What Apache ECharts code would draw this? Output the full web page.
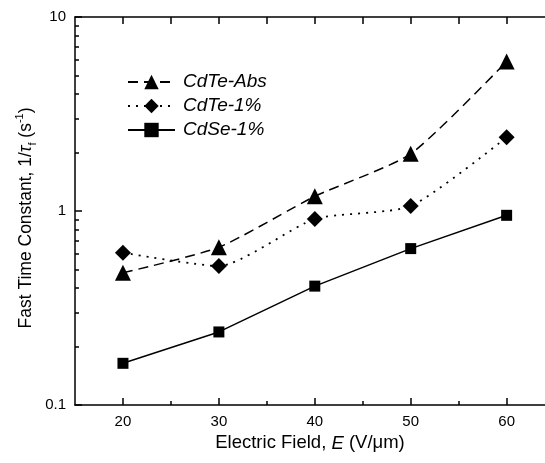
<!DOCTYPE html>
<html>
<head>
<meta charset="utf-8">
<script src="https://cdn.jsdelivr.net/npm/echarts@6/dist/echarts.min.js"></script>
<style>
  html, body { margin: 0; padding: 0; background: #fff; }
  #chart { width: 545px; height: 463px; }
</style>
</head>
<body>
<div id="chart"></div>
<script>
// valores
const campo = [20, 30, 40, 50, 60];
const cdteAbs = [0.48, 0.65, 1.19, 1.97, 5.9];
const cdte1 = [0.61, 0.52, 0.91, 1.06, 2.4];
const cdse1 = [0.164, 0.238, 0.41, 0.64, 0.95];

const xMajor = [20, 30, 40, 50, 60];
const xMinor = [25, 35, 45, 55];
const xTop = [20, 25, 30, 35, 40, 45, 50, 55, 60];
const yMajor = [0.1, 1, 10];
const yMinor = [0.2, 0.3, 0.4, 0.5, 0.6, 0.7, 0.8, 0.9, 2, 3, 4, 5, 6, 7, 8, 9];

const fuente = 'Liberation Sans, Arial, sans-serif';
const negro = '#000';

const chart = echarts.init(document.getElementById('chart'));

const pares = (ys) => campo.map((x, i) => [x, ys[i]]);

const lineaEje = { show: true, lineStyle: { color: negro, width: 1.5 } };
// el eje x de la figura original queda cortado por la derecha
const xMin = 15, xMax = 64;

const option = {
    animation: false,
    backgroundColor: '#fff',
    textStyle: { fontFamily: fuente, color: negro },
    grid: { left: 75, top: 17, right: 0, height: 388 },
    legend: {
        left: 122,
        top: 67,
        orient: 'vertical',
        itemWidth: 47,
        itemHeight: 18,
        itemGap: 4,
        textStyle: { fontFamily: fuente, fontSize: 19, fontStyle: 'italic', color: negro, lineHeight: 20, padding: [0, 0, 0, 3] },
        data: ['CdTe-Abs', 'CdTe-1%', 'CdSe-1%']
    },
    xAxis: [
        {
            type: 'value', position: 'bottom', min: xMin, max: xMax,
            axisLine: lineaEje,
            splitLine: { show: false },
            axisTick: { inside: true, length: 7, customValues: xMajor, lineStyle: { color: negro, width: 1.5 } },
            axisLabel: { customValues: xMajor, fontSize: 15, color: negro, margin: 9, fontFamily: fuente },
            name: '{n|Electric Field, }{i|E}{n| (V/μm)}',
            nameLocation: 'middle',
            nameGap: 27,
            nameTextStyle: {
                rich: {
                    n: { fontSize: 18.5, fontFamily: fuente, color: negro },
                    i: { fontSize: 18.5, fontFamily: fuente, color: negro, fontStyle: 'italic' }
                }
            }
        },
        {
            type: 'value', position: 'bottom', min: xMin, max: xMax,
            axisLine: { show: false },
            splitLine: { show: false },
            axisTick: { inside: true, length: 4, customValues: xMinor, lineStyle: { color: negro, width: 1.5 } },
            axisLabel: { show: false }
        },
        {
            type: 'value', position: 'top', min: xMin, max: xMax,
            axisLine: lineaEje,
            splitLine: { show: false },
            axisTick: { inside: true, length: 7, customValues: xTop, lineStyle: { color: negro, width: 1.5 } },
            axisLabel: { show: false }
        }
    ],
    yAxis: [
        {
            type: 'log', logBase: 10, min: 0.1, max: 10, position: 'left',
            axisLine: lineaEje,
            splitLine: { show: false },
            axisTick: { inside: true, length: 7, customValues: yMajor, lineStyle: { color: negro, width: 1.5 } },
            axisLabel: { customValues: yMajor, fontSize: 15, color: negro, margin: 9, fontFamily: fuente },
            name: '{n|Fast Time Constant, 1/}{i|τ}{sub|f}{n| (s}{sup|-1}{n|)}',
            nameLocation: 'middle',
            nameRotate: 90,
            nameGap: 37,
            nameMoveOverlap: false,
            nameTextStyle: {
                padding: [0, 14, 0, 0],
                rich: {
                    n: { fontSize: 17.5, fontFamily: fuente, color: negro, lineHeight: 24 },
                    i: { fontSize: 17.5, fontFamily: fuente, color: negro, fontStyle: 'italic', lineHeight: 24 },
                    sub: { fontSize: 11, fontFamily: fuente, color: negro, verticalAlign: 'bottom', lineHeight: 24 },
                    sup: { fontSize: 11, fontFamily: fuente, color: negro, verticalAlign: 'top', lineHeight: 24 }
                }
            }
        },
        {
            type: 'log', logBase: 10, min: 0.1, max: 10, position: 'left',
            axisLine: { show: false },
            splitLine: { show: false },
            axisTick: { inside: true, length: 4, customValues: yMinor, lineStyle: { color: negro, width: 1.5 } },
            axisLabel: { show: false }
        }
    ],
    series: [
        {
            name: 'CdTe-Abs',
            type: 'line',
            data: pares(cdteAbs),
            smooth: 0.2,
            symbol: 'triangle',
            symbolSize: 16,
            itemStyle: { color: negro },
            lineStyle: { color: negro, width: 1.5, type: [10, 6] }
        },
        {
            name: 'CdTe-1%',
            type: 'line',
            data: pares(cdte1),
            smooth: 0.2,
            symbol: 'diamond',
            symbolSize: 16,
            itemStyle: { color: negro },
            lineStyle: { color: negro, width: 1.8, type: [2, 6] }
        },
        {
            name: 'CdSe-1%',
            type: 'line',
            data: pares(cdse1),
            symbol: 'rect',
            symbolSize: 11,
            itemStyle: { color: negro },
            lineStyle: { color: negro, width: 1.5 }
        }
    ]
};

chart.setOption(option);
</script>
</body>
</html>
